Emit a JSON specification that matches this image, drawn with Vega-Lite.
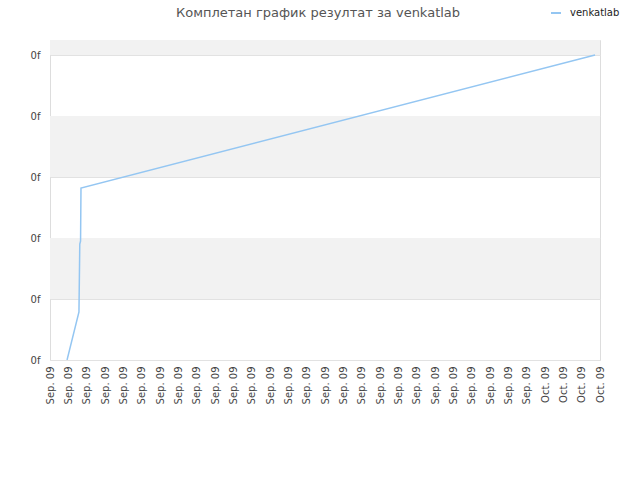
{
  "$schema": "https://vega.github.io/schema/vega-lite/v6.json",
  "width": 550,
  "height": 320,
  "autosize": {"type": "none"},
  "padding": {"left": 50, "top": 40, "right": 40, "bottom": 120},
  "background": "white",
  "title": {
    "text": "Комплетан график резултат за venkatlab",
    "font": "DejaVu Sans",
    "fontSize": 13,
    "fontWeight": "normal",
    "color": "#555555",
    "anchor": "middle",
    "dx": -7,
    "offset": -13
  },
  "config": {
    "view": {"stroke": "#dddddd", "strokeWidth": 1},
    "font": "DejaVu Sans"
  },
  "datasets": {
    "bands": [
      {"lo": 1, "hi": 2},
      {"lo": 3, "hi": 4},
      {"lo": 5, "hi": 5.246}
    ],
    "scores": [
      {"time": "2009-09-04T22:19", "score": 0, "user": "venkatlab"},
      {"time": "2009-09-05T13:55", "score": 0.79, "user": "venkatlab"},
      {"time": "2009-09-05T15:00", "score": 1.9, "user": "venkatlab"},
      {"time": "2009-09-05T16:00", "score": 1.95, "user": "venkatlab"},
      {"time": "2009-09-05T16:34", "score": 2.82, "user": "venkatlab"},
      {"time": "2009-10-03T17:31", "score": 5, "user": "venkatlab"}
    ]
  },
  "layer": [
    {
      "data": {"name": "bands"},
      "mark": {"type": "rect", "fill": "#f2f2f2"},
      "encoding": {
        "y": {
          "field": "lo",
          "type": "quantitative",
          "scale": {"domain": [0, 5.246], "nice": false},
          "axis": {
            "title": null,
            "values": [0, 1, 2, 3, 4, 5],
            "labelExpr": "'0f'",
            "labelFontSize": 10,
            "labelColor": "#444444",
            "labelPadding": 10,
            "grid": true,
            "gridColor": "#e2e2e2",
            "ticks": false,
            "domain": false
          }
        },
        "y2": {"field": "hi"}
      }
    },
    {
      "data": {"name": "scores"},
      "mark": {"type": "line", "strokeWidth": 1.5, "clip": true},
      "encoding": {
        "x": {
          "field": "time",
          "type": "temporal",
          "scale": {"domain": [{"year": 2009, "month": 9, "date": 4}, {"year": 2009, "month": 10, "date": 4}], "nice": false},
          "axis": {
            "title": null,
            "tickCount": {"interval": "day", "step": 1},
            "format": "%b. %y",
            "labelAngle": -90,
            "labelFontSize": 10,
            "labelColor": "#444444",
            "labelPadding": 6,
            "grid": false,
            "ticks": false,
            "domain": false,
            "labelOverlap": false
          }
        },
        "y": {
          "field": "score",
          "type": "quantitative",
          "scale": {"domain": [0, 5.246], "nice": false},
          "axis": {
            "title": null,
            "values": [0, 1, 2, 3, 4, 5],
            "labelExpr": "'0f'",
            "labelFontSize": 10,
            "labelColor": "#444444",
            "labelPadding": 10,
            "grid": true,
            "gridColor": "#e2e2e2",
            "ticks": false,
            "domain": false
          }
        },
        "color": {
          "field": "user",
          "type": "nominal",
          "scale": {"range": ["#94c6f2"]},
          "legend": {
            "title": null,
            "orient": "none",
            "legendX": 500,
            "legendY": -33,
            "symbolType": "stroke",
            "symbolStrokeWidth": 2,
            "symbolSize": 100,
            "labelOffset": 8,
            "labelFontSize": 10,
            "labelColor": "#222222"
          }
        }
      }
    }
  ]
}
